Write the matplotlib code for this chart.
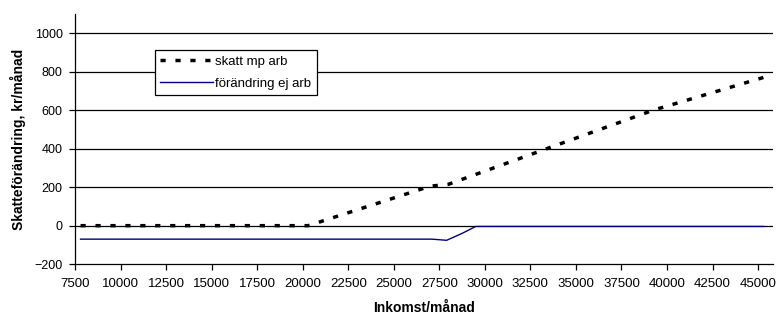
import matplotlib
matplotlib.use("Agg")
import matplotlib.pyplot as plt

plt.rcParams['font.family'] = ['Liberation Sans', 'DejaVu Sans']

# skatt mp arb
skatt_x = [7800, 20300, 27000, 28000, 33400, 39250, 45300]
skatt_y = [0, 0, 205, 215, 400, 600, 770]

# förändring ej arb
forandr_x = [7800, 27100, 27900, 28750, 29500, 45300]
forandr_y = [-70, -70, -76, -40, -4, -4]

x_ticks = list(range(7500, 45001, 2500))
y_ticks = [-200, 0, 200, 400, 600, 800, 1000]

fig = plt.figure(figsize=(7.82, 3.16), dpi=100)
ax = fig.add_axes([0.096, 0.164, 0.892, 0.792])

for yv in y_ticks[1:]:
    ax.axhline(yv, color='black', lw=0.9, zorder=1)

ax.plot(skatt_x, skatt_y, color='black', lw=2.5, dashes=(1.5, 2.8),
        label='skatt mp arb', zorder=3)
ax.plot(forandr_x, forandr_y, color='#000080', lw=1.0,
        label='förändring ej arb', zorder=2)

ax.set_xlim(7500, 45800)
ax.set_ylim(-200, 1100)
ax.set_xticks(x_ticks)
ax.set_yticks(y_ticks)
ax.tick_params(length=4, width=0.9, direction='out')
ax.tick_params(axis='x', labelsize=9.5, pad=6)
ax.tick_params(axis='y', labelsize=9, pad=5)
for s in ['top', 'right']:
    ax.spines[s].set_visible(False)
for s in ['left', 'bottom']:
    ax.spines[s].set_linewidth(0.9)

ax.set_xlabel('Inkomst/månad', fontsize=10, fontweight='bold', labelpad=8)
ax.set_ylabel('Skatteförändring, kr/månad', fontsize=10, fontweight='bold', labelpad=6)

leg = ax.legend(loc='upper left', bbox_to_anchor=(0.114, 0.855), fontsize=9.5,
                fancybox=False, edgecolor='black', framealpha=1,
                borderpad=0.4, handlelength=4.0, handletextpad=0.2,
                labelspacing=0.75, borderaxespad=0)
leg.get_frame().set_linewidth(0.9)

fig.savefig('out.png', dpi=100)
